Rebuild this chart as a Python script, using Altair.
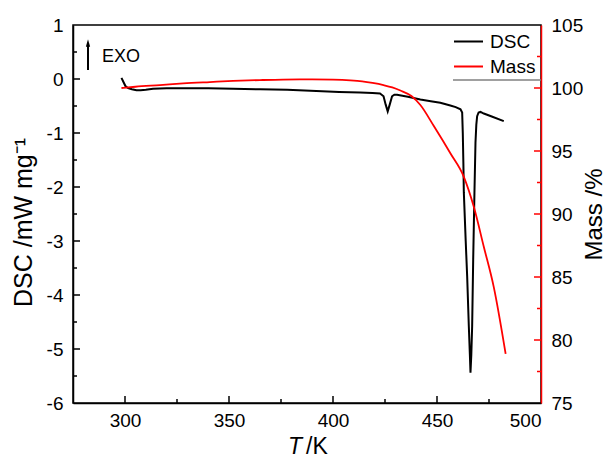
import altair as alt
import pandas as pd

# ---------------- data ----------------
T_DSC = [298.3, 299.2, 300.2, 301.5, 303.3, 305.5, 307.5, 310.0, 313.5, 320.0, 330.0,
         340.0, 352.0, 365.0, 378.0, 392.0, 403.0, 413.0, 419.0, 422.6, 424.3, 425.3,
         426.3, 427.3, 428.4, 429.5, 430.8, 436.0, 442.0, 447.0, 451.6, 456.4, 459.0,
         461.3, 462.1, 462.4, 462.7, 462.9, 463.8, 464.5, 465.3, 465.8, 466.1, 466.5,
         466.9, 467.4, 468.0, 468.5, 468.9, 469.3, 470.0, 470.9, 472.5, 476.0, 482.1]
DSC = [0.02, -0.05, -0.13, -0.17, -0.19, -0.21, -0.21, -0.20, -0.18, -0.17, -0.17,
       -0.17, -0.18, -0.19, -0.20, -0.22, -0.24, -0.25, -0.26, -0.27, -0.32, -0.47,
       -0.60, -0.47, -0.32, -0.29, -0.29, -0.33, -0.38, -0.41, -0.44, -0.49, -0.52,
       -0.56, -0.62, -1.0, -1.6, -2.1, -3.0, -3.65, -4.58, -5.1, -5.44, -5.1,
       -4.58, -3.34, -2.11, -1.18, -0.85, -0.69, -0.62, -0.61, -0.64, -0.69, -0.78]

T_MASS = [298.3, 305.0, 316.8, 328.0, 340.8, 352.0, 364.9, 376.0, 390.0, 400.0, 408.3,
          414.0, 419.0, 424.3, 428.5, 432.4, 437.7, 442.0, 448.4, 456.5, 462.9, 467.7,
          472.5, 477.3, 483.0]
MASS = [100.0, 100.1, 100.23, 100.36, 100.47, 100.56, 100.63, 100.67, 100.68, 100.66, 100.6,
        100.52, 100.4, 100.23, 100.05, 99.8, 99.36, 98.65, 97.0, 94.8, 92.95, 90.57,
        87.4, 84.2, 78.9]

SERIES = ["DSC", "Mass"]
COLORS = ["black", "red"]

X_LABELS = [300, 350, 400, 450, 500]
X_MAJOR = [300, 350, 400, 450]
X_MINOR = [325, 375, 425, 475]
DSC_LABELS = [-6, -5, -4, -3, -2, -1, 0, 1]
DSC_MAJOR = [-5, -4, -3, -2, -1, 0]
DSC_MINOR = [-5.5, -4.5, -3.5, -2.5, -1.5, -0.5, 0.5]
MASS_LABELS = [75, 80, 85, 90, 95, 100, 105]
MASS_MAJOR = [80, 85, 90, 95, 100]
MASS_MINOR = [77.5, 82.5, 87.5, 92.5, 97.5, 102.5]

# ---------------- layout / style ----------------
W, H = 468, 378
FONT = "Liberation Sans"
LBL = 19
TTL = 24

xscale = alt.Scale(domain=[275, 500], nice=False, zero=False)
dscale = alt.Scale(domain=[-6, 1], nice=False, zero=False)
mscale = alt.Scale(domain=[75, 105], nice=False, zero=False)
cscale = alt.Scale(domain=SERIES, range=COLORS)

xaxis = alt.Axis(values=X_LABELS, title=None, ticks=False, grid=False,
                 labelFontSize=LBL, labelFont=FONT, labelColor="black",
                 labelPadding=8, domainColor="black", domainWidth=1.5)
laxis = alt.Axis(values=DSC_LABELS, title="DSC /mW mg⁻¹", ticks=False, grid=False,
                 orient="left", labelExpr="'' + datum.value",
                 labelFontSize=LBL, labelFont=FONT, labelColor="black",
                 labelPadding=10, domainColor="black", domainWidth=1.5,
                 titleFontSize=25, titleFont=FONT, titleFontWeight="normal",
                 titleColor="black", titlePadding=10, titleY=197)
raxis = alt.Axis(values=MASS_LABELS, title="Mass /%", ticks=False, grid=False,
                 orient="right", labelFontSize=LBL, labelFont=FONT,
                 labelColor="black", labelPadding=10, domainColor="red",
                 domainWidth=1.5, titleFontSize=TTL, titleFont=FONT,
                 titleFontWeight="normal", titleColor="black",
                 titleAngle=270, titleBaseline="top", titlePadding=0)

legend = alt.Legend(title=None, orient="none", legendX=380, legendY=4,
                    symbolType="stroke", symbolSize=841, symbolStrokeWidth=2,
                    labelFontSize=LBL, labelFont=FONT, labelColor="black",
                    rowPadding=0, labelOffset=6, clipHeight=25, padding=0)

one = pd.DataFrame({"a": [0]})

dsc_df = pd.DataFrame({"T": T_DSC, "DSC": DSC, "series": SERIES[0]})
mass_df = pd.DataFrame({"T": T_MASS, "Mass": MASS, "series": SERIES[1]})

dsc_line = alt.Chart(dsc_df).mark_line(strokeWidth=2).encode(
    x=alt.X("T:Q", scale=xscale, axis=xaxis),
    y=alt.Y("DSC:Q", scale=dscale, axis=laxis),
    color=alt.Color("series:N", scale=cscale, legend=legend),
)

def vticks(vals, scale, axis, x0, x1, color):
    return alt.Chart(pd.DataFrame({"v": vals})).mark_rule(color=color, strokeWidth=1.5).encode(
        y=alt.Y("v:Q", scale=scale, axis=axis), x=alt.value(x0), x2=alt.value(x1))

def hticks(vals, length):
    return alt.Chart(pd.DataFrame({"v": vals})).mark_rule(color="black", strokeWidth=1.5).encode(
        x=alt.X("v:Q", scale=xscale, axis=xaxis), y=alt.value(H), y2=alt.value(H - length))

left_major = vticks(DSC_MAJOR, dscale, laxis, 0, 7, "black")
left_minor = vticks(DSC_MINOR, dscale, laxis, 0, 4, "black")
right_major = vticks(MASS_MAJOR, mscale, raxis, W, W - 7, "red")
right_minor = vticks(MASS_MINOR, mscale, raxis, W, W - 4, "red")
bottom_major = hticks(X_MAJOR, 7)
bottom_minor = hticks(X_MINOR, 4)

exo_text = alt.Chart(one).mark_text(text="EXO", align="left", baseline="alphabetic",
                                    fontSize=18, font=FONT, color="black").encode(
    x=alt.value(29), y=alt.value(37))
exo_shaft = alt.Chart(one).mark_rule(color="black", strokeWidth=2).encode(
    x=alt.value(15), y=alt.value(45), y2=alt.value(20))
exo_head = alt.Chart(one).mark_point(shape="M0,-1L0.55,1L-0.55,1Z", filled=True, size=60,
                                     color="black", opacity=1).encode(
    x=alt.value(15), y=alt.value(18))
legend_rule = alt.Chart(one).mark_rule(color="#808080", strokeWidth=1.5).encode(
    x=alt.value(380), x2=alt.value(W), y=alt.value(55))
xt_T = alt.Chart(one).mark_text(text="T", align="right", baseline="alphabetic",
                                fontSize=23, font=FONT, fontStyle="italic", color="black").encode(
    x=alt.value(229), y=alt.value(429))
xt_K = alt.Chart(one).mark_text(text="/K", align="left", baseline="alphabetic",
                                fontSize=23, font=FONT, color="black").encode(
    x=alt.value(233), y=alt.value(429))

mass_line = alt.Chart(mass_df).mark_line(strokeWidth=1.8, interpolate="monotone").encode(
    x=alt.X("T:Q", scale=xscale, axis=xaxis),
    y=alt.Y("Mass:Q", scale=mscale, axis=raxis),
    color=alt.Color("series:N", scale=cscale, legend=legend),
)

layer_dsc = alt.layer(dsc_line, left_major, left_minor, bottom_major, bottom_minor,
                      exo_shaft, exo_head, exo_text, legend_rule, xt_T, xt_K)
layer_mass = alt.layer(mass_line, right_major, right_minor)

chart = alt.layer(layer_dsc, layer_mass).resolve_scale(y="independent").properties(
    width=W, height=H,
    autosize=alt.AutoSizeParams(type="none"),
    padding={"left": 73, "top": 25, "right": 66, "bottom": 56},
    background="white",
).configure_view(stroke="black", strokeWidth=1.5)

chart.save("out.html", embed_options={"renderer": "svg", "actions": False})
